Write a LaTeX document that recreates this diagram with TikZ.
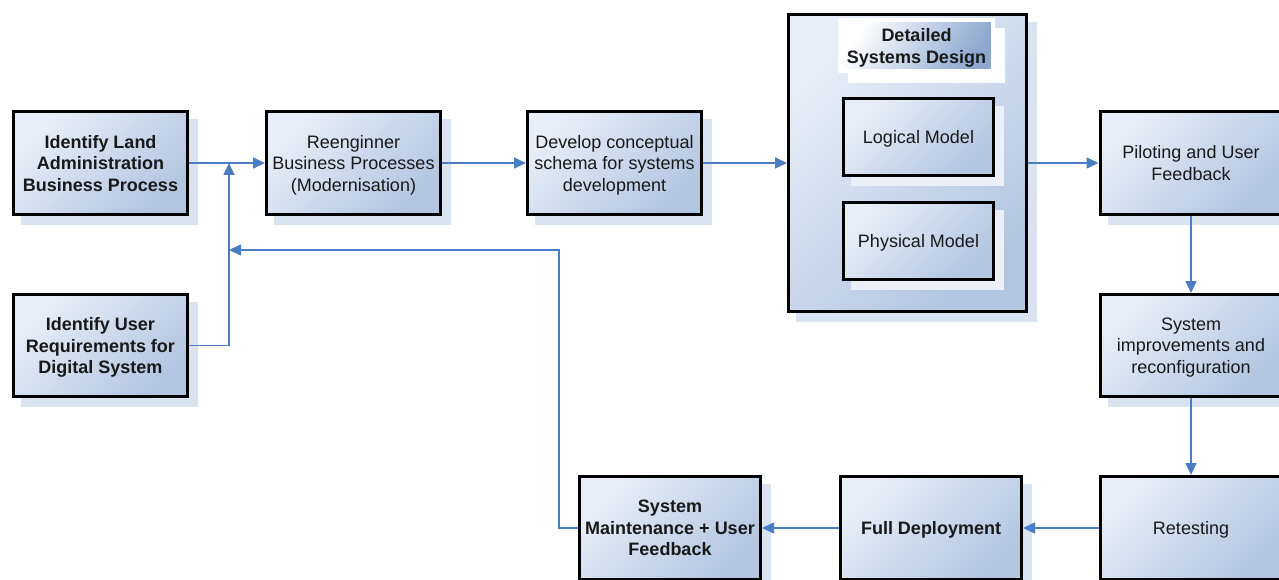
\documentclass[tikz,border=0pt]{standalone}
\usepackage{fontspec}
\setmainfont{Liberation Sans}
\usetikzlibrary{arrows.meta,shadows}
\definecolor{boxlight}{HTML}{E8EEF7}
\definecolor{boxdark}{HTML}{B3C5E0}
\definecolor{shadowc}{HTML}{DAE3F0}
\definecolor{innershadow}{HTML}{EBF0F8}
\definecolor{titledark}{HTML}{8CA7D0}
\definecolor{arrowc}{HTML}{4A7DC2}
\tikzset{
  box/.style={draw=black, line width=3pt, top color=boxlight, bottom color=boxdark, shading angle=45,
    general shadow={fill=shadowc, draw=shadowc, line width=3pt, shadow xshift=9pt, shadow yshift=-9pt},
    align=center, inner sep=0pt, text depth=0pt, font=\fontsize{18}{21.5}\selectfont, text=black!90},
  bbox/.style={box, font=\fontsize{18}{21.5}\selectfont\bfseries},
  innerbox/.style={draw=black, line width=3pt, top color=boxlight, bottom color=boxdark, shading angle=45,
    general shadow={fill=innershadow, draw=innershadow, line width=3pt, shadow xshift=9pt, shadow yshift=-9pt},
    align=center, inner sep=0pt, text depth=0pt, font=\fontsize{18}{21.5}\selectfont, text=black!90,
    minimum width=150pt, minimum height=77pt},
  titlebox/.style={draw=white, line width=4pt, top color=white, bottom color=titledark, shading angle=60,
    general shadow={fill=white, draw=white, line width=4pt, shadow xshift=10pt, shadow yshift=-10pt},
    align=center, inner sep=0pt, text depth=0pt, font=\fontsize{18}{21.5}\selectfont\bfseries, text=black!90,
    minimum width=153pt, minimum height=51pt},
  conn/.style={draw=arrowc, line width=1.6pt, -{Triangle[length=12pt,width=11pt]}},
  line/.style={draw=arrowc, line width=1.6pt}
}
\begin{document}
\begin{tikzpicture}[x=1pt,y=-1pt]
\useasboundingbox[fill=white] (0,0) rectangle (1279,580);
% left column
\node[bbox, minimum width=174pt, minimum height=103pt] (A) at (100.5,163) {Identify Land\\Administration\\Business Process};
\node[bbox, minimum width=174pt, minimum height=102pt] (B) at (100.5,345.5) {Identify User\\Requirements for\\Digital System};
\node[box, minimum width=174pt, minimum height=103pt] (C) at (353.5,163) {Reenginner\\Business Processes\\(Modernisation)};
\node[box, minimum width=174pt, minimum height=103pt] (D) at (614.5,163) {Develop conceptual\\schema for systems\\development};
% big design box
\node[box, minimum width=238pt, minimum height=297pt] (E) at (907.5,163) {};
\node[titlebox] (T) at (916.5,46) {Detailed\\Systems Design};
\node[innerbox] (L) at (918.5,137) {Logical Model};
\node[innerbox] (P) at (918.5,241) {Physical Model};
% right column
\node[box, minimum width=182pt, minimum height=103pt] (PF) at (1191,163) {Piloting and User\\Feedback};
\node[box, minimum width=182pt, minimum height=102pt] (SI) at (1191,345.5) {System\\improvements and\\reconfiguration};
\node[box, minimum width=182pt, minimum height=103pt] (RT) at (1191,528) {Retesting};
% bottom row
\node[bbox, minimum width=181pt, minimum height=103pt] (FD) at (931,528) {Full Deployment};
\node[bbox, minimum width=181pt, minimum height=103pt] (SM) at (670,528) {System\\Maintenance + User\\Feedback};
% junctions
\coordinate (j1) at (229,163);
\coordinate (j2) at (229,250);
\coordinate (c1) at (559,250);
% connectors
\draw[conn] (A.east) -- (C.west);
\draw[conn] (B.east) -| (j1);
\draw[conn] (C.east) -- (D.west);
\draw[conn] (D.east) -- (E.west);
\draw[conn] (E.east) -- (PF.west);
\draw[conn] (PF.south) -- (SI.north);
\draw[conn] (SI.south) -- (RT.north);
\draw[conn] (RT.west) -- (FD.east);
\draw[conn] (FD.west) -- (SM.east);
\draw[conn] (SM.west) -| (c1) -- (j2);
\end{tikzpicture}
\end{document}
